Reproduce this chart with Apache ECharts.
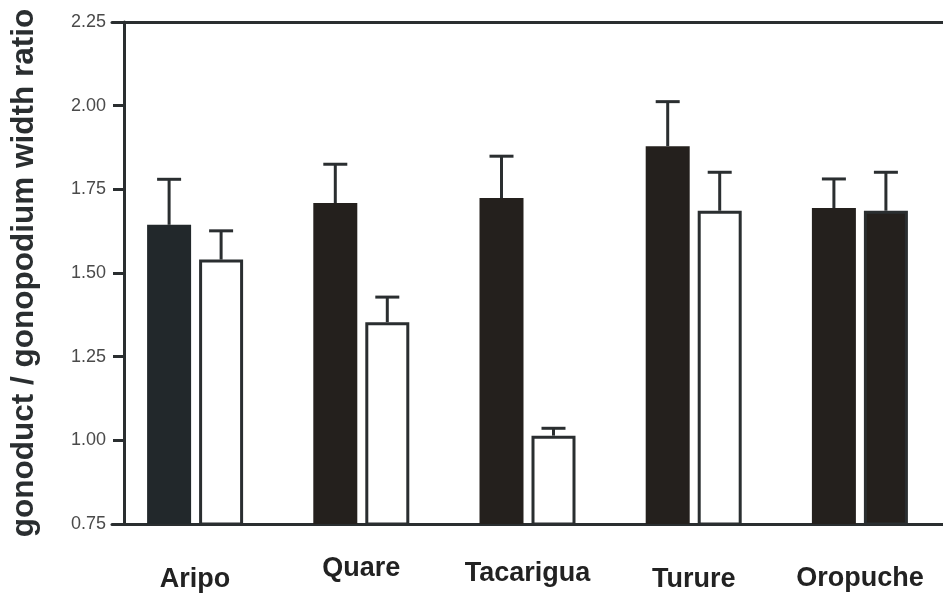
<!DOCTYPE html>
<html>
<head>
<meta charset="utf-8">
<script src="https://cdn.jsdelivr.net/npm/echarts@6/dist/echarts.min.js"></script>
<style>
html,body{margin:0;padding:0;background:#fff;}
#chart{width:943px;height:593px;}
</style>
</head>
<body>
<div id="chart"></div>
<script>
// ---- data ----
var categories = ['Aripo', 'Quare', 'Tacarigua', 'Turure', 'Oropuche'];
var darkMeans = [1.644, 1.709, 1.724, 1.879, 1.694];
var darkUpper = [1.780, 1.825, 1.849, 2.012, 1.781];
var lightMeans = [1.540, 1.353, 1.014, 1.686, 1.686];
var lightUpper = [1.626, 1.428, 1.036, 1.801, 1.801];
var yTicks = ['0.75', '1.00', '1.25', '1.50', '1.75', '2.00', '2.25'];
var yName = 'gonoduct / gonopodium width ratio';

// ---- style ----
var INK = '#2a2e30';
var BAR_W = 44, BAR_GAP = 8;
var halfStep = (BAR_W + BAR_GAP) / 2;
var darkFill = ['#22282b', '#24201d', '#24201d', '#24201d', '#24201d'];
var lightFill = ['#ffffff', '#ffffff', '#ffffff', '#ffffff', '#24201d'];
var labelNudge = [11, 0, 5, 11, 10];

var chart = echarts.init(document.getElementById('chart'));

function errSeries(means, upper, side) {
  return {
    type: 'custom',
    z: 5,
    data: means.map(function (m, i) { return [i, m, upper[i]]; }),
    renderItem: function (params, api) {
      var base = api.coord([api.value(0), api.value(1)]);
      var top = api.coord([api.value(0), api.value(2)]);
      var x = base[0] + side * halfStep;
      var st = { stroke: INK, lineWidth: 3 };
      return {
        type: 'group',
        children: [
          { type: 'line', shape: { x1: x, y1: base[1], x2: x, y2: top[1] }, style: st },
          { type: 'line', shape: { x1: x - 12, y1: top[1], x2: x + 12, y2: top[1] }, style: st }
        ]
      };
    }
  };
}

var option = {
  animation: false,
  backgroundColor: '#ffffff',
  grid: { left: 109, width: 839, top: 22, bottom: 66, containLabel: false },
  xAxis: [{
    type: 'category',
    data: categories.map(function (c, i) {
      return { value: c, textStyle: { padding: [labelNudge[i], 0, 0, 0] } };
    }),
    axisLine: { show: true, lineStyle: { color: INK, width: 3 } },
    axisTick: { show: false },
    axisLabel: {
      interval: 0,
      margin: 31,
      fontSize: 27,
      fontWeight: 'bold',
      color: '#222222',
      fontFamily: "'Liberation Sans', Arial, sans-serif"
    },
    splitLine: { show: false }
  }, {
    type: 'category',
    position: 'top',
    data: categories,
    axisLine: { show: true, lineStyle: { color: INK, width: 3 } },
    axisTick: { show: false },
    axisLabel: { show: false },
    splitLine: { show: false }
  }],
  yAxis: {
    type: 'value',
    min: 0.75,
    max: 2.25,
    interval: 0.25,
    offset: -12,
    name: yName,
    nameLocation: 'middle',
    nameRotate: 90,
    nameGap: 84,
    nameTextStyle: {
      fontSize: 31.5,
      fontWeight: 'bold',
      color: INK,
      fontFamily: "'Liberation Sans', Arial, sans-serif"
    },
    axisLine: { show: true, lineStyle: { color: INK, width: 3 } },
    axisTick: { show: true, length: 11, lineStyle: { color: INK, width: 3 } },
    axisLabel: {
      margin: 18,
      fontSize: 18,
      color: '#4a4a4a',
      fontFamily: "'Liberation Sans', Arial, sans-serif",
      formatter: function (v) {
        var idx = Math.round((v - 0.75) / 0.25);
        return yTicks[idx] !== undefined ? yTicks[idx] : v.toFixed(2);
      }
    },
    splitLine: { show: false }
  },
  series: [{
    name: 'dark',
    type: 'bar',
    barWidth: BAR_W,
    barGap: (BAR_GAP / BAR_W * 100) + '%',
    data: darkMeans.map(function (v, i) {
      return { value: v, itemStyle: { color: darkFill[i] } };
    })
  }, {
    name: 'light',
    type: 'bar',
    barWidth: BAR_W,
    data: lightMeans.map(function (v, i) {
      return { value: v, itemStyle: { color: lightFill[i], borderColor: INK, borderWidth: 3 } };
    })
  },
  errSeries(darkMeans, darkUpper, -1),
  errSeries(lightMeans, lightUpper, 1)
  ]
};
chart.setOption(option);
</script>
</body>
</html>
